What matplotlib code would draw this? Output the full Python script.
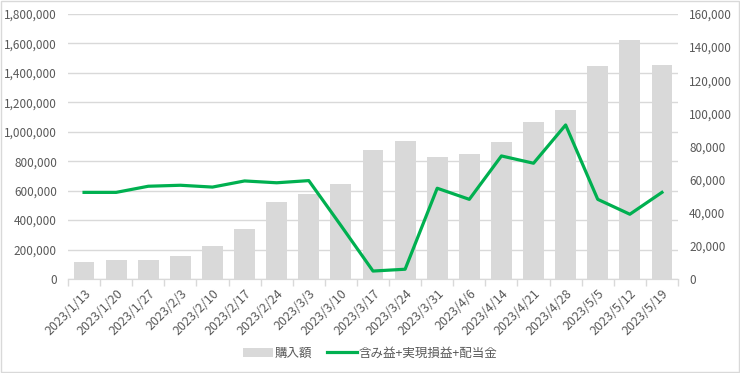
import numpy as np
import matplotlib
matplotlib.use('Agg')
import matplotlib.pyplot as plt
from matplotlib.ticker import FuncFormatter, MultipleLocator, FixedLocator
from matplotlib.patches import Rectangle

plt.rcParams['font.family'] = ['Noto Sans CJK JP', 'DejaVu Sans']

# ---------- data ----------
dates = ['2023/1/13', '2023/1/20', '2023/1/27', '2023/2/3', '2023/2/10', '2023/2/17',
         '2023/2/24', '2023/3/3', '2023/3/10', '2023/3/17', '2023/3/24', '2023/3/31',
         '2023/4/6', '2023/4/14', '2023/4/21', '2023/4/28', '2023/5/5', '2023/5/12',
         '2023/5/19']
purchase = [115000, 129000, 129000, 156000, 224000, 340000, 523000, 577000, 645000,
            876000, 937000, 829000, 849000, 931000, 1066000, 1148000, 1447000,
            1623000, 1454000]
profit = [52300, 52300, 56000, 56600, 55500, 59200, 58100, 59400, 32300, 4800, 5900,
          54800, 48100, 74300, 69900, 93000, 48100, 39100, 52300]

BAR_C = '#D9D9D9'
LINE_C = '#00B050'
TXT_C = '#595959'

fig = plt.figure(figsize=(7.4, 3.73), dpi=100)
ax = fig.add_axes([68/740, 1-279/373, 610/740, 265/373])
ax2 = ax.twinx()

x = np.arange(len(dates))
ax.bar(x, purchase, width=0.65, color=BAR_C, zorder=2, label='購入額')
ax2.plot(x, profit, color=LINE_C, lw=2.3, zorder=3, label='含み益+実現損益+配当金')

ax.set_xlim(-0.5, len(dates)-0.5)
ax.set_ylim(0, 1800000)
ax2.set_ylim(0, 160000)
ax.yaxis.set_major_locator(MultipleLocator(200000))
ax2.yaxis.set_major_locator(MultipleLocator(20000))
fmt = FuncFormatter(lambda v, p: f'{int(v):,}')
ax.yaxis.set_major_formatter(fmt)
ax2.yaxis.set_major_formatter(fmt)

ax.set_xticks(x)
ax.set_xticklabels(dates, rotation=45, ha='right', rotation_mode='anchor')
ax.xaxis.set_minor_locator(FixedLocator(np.arange(-0.5, len(dates), 1.0)))
ax.tick_params(axis='x', which='major', length=0, pad=6, labelsize=9, labelcolor=TXT_C)
ax.tick_params(axis='x', which='minor', length=5, color=BAR_C, width=1)
ax.tick_params(axis='y', length=0, labelsize=8.5, labelcolor=TXT_C, pad=8)
ax2.tick_params(axis='y', length=0, labelsize=8.5, labelcolor=TXT_C, pad=8)

ax.grid(axis='y', color=BAR_C, lw=1, zorder=0)
ax.set_axisbelow(True)
for a in (ax, ax2):
    for s in ('top', 'left', 'right'):
        a.spines[s].set_visible(False)
    a.spines['bottom'].set_color(BAR_C)

h1, l1 = ax.get_legend_handles_labels()
h2, l2 = ax2.get_legend_handles_labels()
fig.legend(h1 + h2, l1 + l2, loc='center', bbox_to_anchor=(0.5, 1-353/373), ncol=2,
           frameon=False, fontsize=9, labelcolor=TXT_C, handlelength=2.4,
           handletextpad=0.1, columnspacing=1.2)

fig.patches.append(Rectangle((0.001, 0.002), 0.997, 0.995, transform=fig.transFigure,
                             fill=False, edgecolor='#D9D9D9', lw=1))

fig.savefig('out.png', dpi=100)
